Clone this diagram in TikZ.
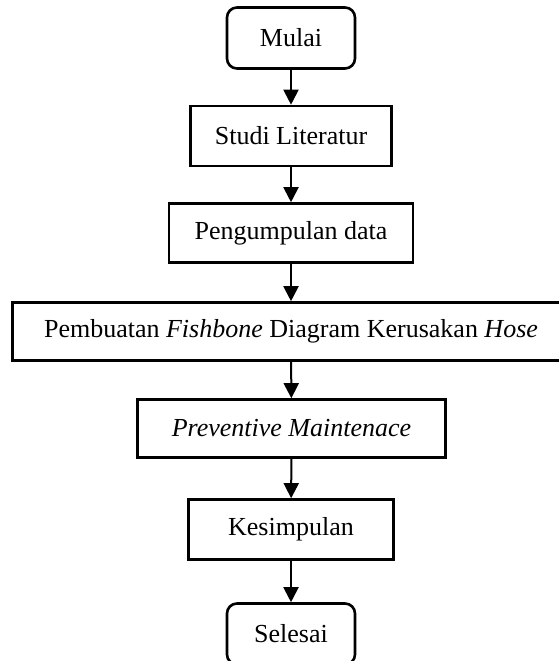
\documentclass[tikz,border=0pt]{standalone}
\usepackage{fontspec}
\setmainfont{Liberation Serif}
\usetikzlibrary{arrows.meta}

\tikzset{
  kotak/.style={draw, line width=2.6pt, align=center, inner sep=0pt, font=\fontsize{26}{30}\selectfont},
  ujung/.style={kotak, rounded corners=10pt},
  panah/.style={line width=2pt, -{Triangle[length=15pt, width=15pt]}}
}

\begin{document}
\begin{tikzpicture}[x=1pt, y=-1pt]

% Batas gambar
\useasboundingbox (0,0) rectangle (558,661);

% Kotak alur
\node[ujung, minimum width=128pt, minimum height=61pt] (mulai) at (291,38) {Mulai};
\node[kotak, minimum width=201pt, minimum height=60pt] (studi) at (291,136) {Studi Literatur};
\node[kotak, minimum width=244pt, minimum height=59pt] (data) at (291,233) {Pengumpulan data};
\node[kotak, minimum width=557pt, minimum height=58pt] (fish) at (291,331.5) {Pembuatan \textit{Fishbone} Diagram Kerusakan \textit{Hose}};
\node[kotak, minimum width=308pt, minimum height=58pt] (prev) at (291.5,428.5) {\textit{Preventive Maintenace}};
\node[kotak, minimum width=205pt, minimum height=60pt] (kes) at (291,529.5) {Kesimpulan};
\node[ujung, minimum width=128pt, minimum height=61pt] (selesai) at (291,634) {Selesai};

% Panah
\draw[panah] (mulai) -- (studi);
\draw[panah] (studi) -- (data);
\draw[panah] (data) -- (fish);
\draw[panah] (fish) -- (prev);
\draw[panah] (prev) -- (kes);
\draw[panah] (kes) -- (selesai);

\end{tikzpicture}
\end{document}
